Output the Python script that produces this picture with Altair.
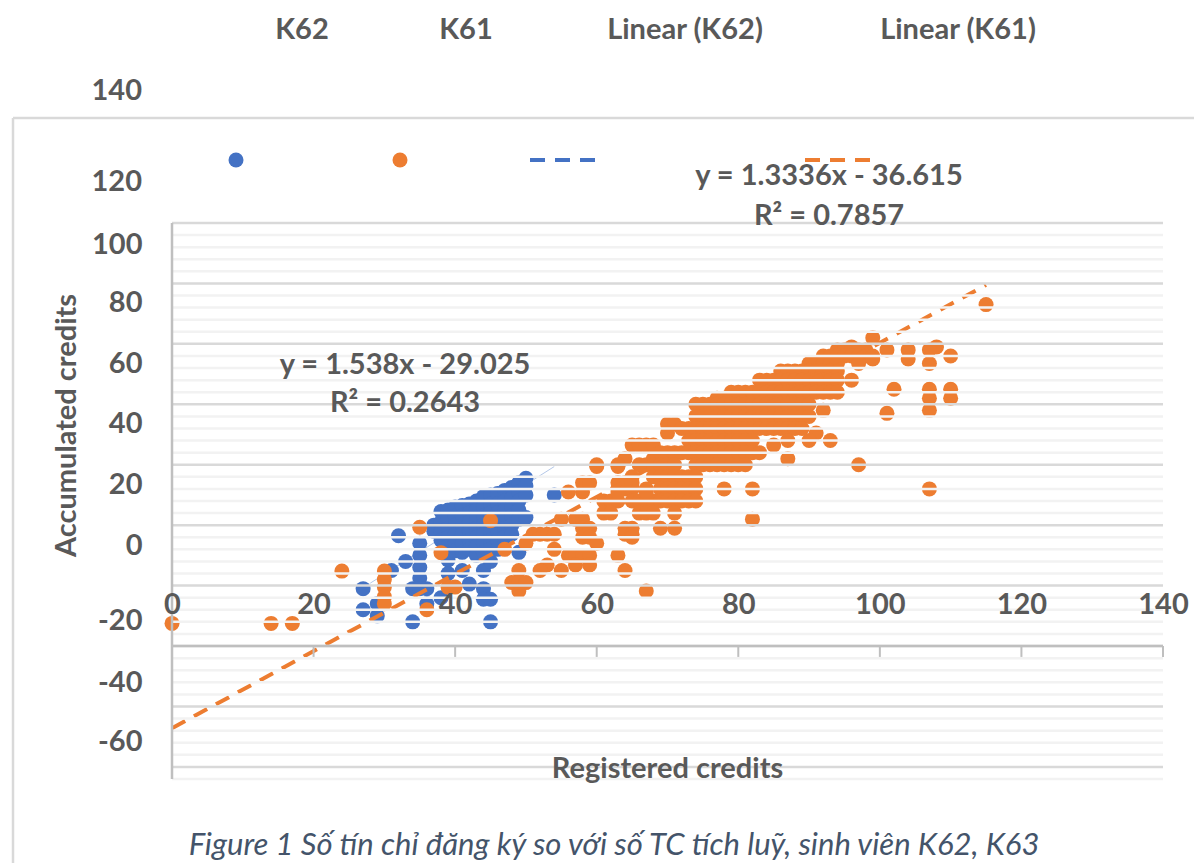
import altair as alt
import pandas as pd

# K62: registered credits -> accumulated credits
K62_COLUMNS = {
    27: [19, 12], 29: [14, 10], 31: [25], 32: [36.5], 33: [28], 34: [19, 8],
    35: [34, 30, 26, 22.5, 19], 36: [19, 14], 37: [40, 38],
    38: [44.5, 41, 38, 35, 16],
    39: [45, 42, 39, 36, 33, 28.5, 24],
    40: [46, 43, 40, 37, 34, 31.5],
    41: [46.5, 43, 40, 37, 34, 31, 25],
    42: [47, 44, 41, 38, 35, 32, 20.5],
    43: [48, 45, 42, 39, 36, 33, 30],
    44: [49.5, 46, 43, 40, 37, 34, 31, 25, 19, 15.5],
    45: [50, 47, 44, 41, 38, 35, 32, 28, 15.5, 8],
    46: [50.5, 47, 44, 41, 38, 35, 32],
    47: [51.5, 48, 45, 42, 39, 36],
    48: [52.5, 49, 46, 43, 40, 37],
    49: [54, 51, 48, 45, 42, 31],
    50: [55.5, 53, 50, 42.5],
    54: [50],
}

# K61: accumulated credits -> registered credits
K61_ROWS = {
    113: [115],
    102: [99],
    99: [96, 108],
    98: [94, 95, 96, 97, 98, 101, 104, 107],
    96: [92, 93, 94, 95, 96, 97, 98, 99, 110],
    95: [99, 104],
    93.5: [90, 91, 92, 93, 94, 97, 107],
    91: [86, 87, 88, 89, 90, 91, 92, 93, 94],
    88: [83, 84, 85, 86, 87, 88, 89, 90, 91, 92, 93, 94, 96],
    85: [110, 107, 102],
    84: [79, 80, 81, 82, 83, 84, 85, 86, 87, 88, 89, 90, 91, 92, 93, 94],
    82: [77, 78, 110, 107],
    80: [74, 75, 76, 77, 78, 79, 80, 81, 82, 83, 84, 85, 86, 87, 88, 89, 90],
    78: [92, 107],
    77: [101],
    76: [74, 75, 76, 77, 78, 79, 80, 81, 82, 83, 84, 85, 86, 87, 88, 89, 90],
    73.5: [70, 71],
    72: [72, 73, 74, 75, 76, 77, 78, 79, 80, 81, 82, 83, 84, 85, 86, 87, 88, 89],
    70.5: [70, 91],
    68: [73, 74, 75, 76, 77, 78, 79, 80, 81, 82, 87, 90, 93],
    66.5: [65, 66, 67, 68, 85],
    64: [69, 70, 71, 72, 73, 74, 75, 76, 77, 78, 79, 80, 81, 82, 83],
    62: [64, 68, 87],
    60: [60, 63, 66, 67, 68, 69, 70, 71, 74, 75, 76, 77, 78, 79, 80, 81, 97],
    56: [65, 68, 69, 70, 71, 72, 73, 74],
    52: [63, 64, 65, 67, 69, 70, 71, 72, 73, 74, 78, 82, 107],
    48: [61, 62, 63, 65, 66, 67, 68, 69, 70, 71, 72, 73, 74],
    44: [61, 62, 66, 67, 68, 71],
    42: [55, 57, 58, 82],
    39: [64, 65, 69, 71, 58, 59],
    37: [51, 52, 53, 54, 64, 65],
    36: [65, 58, 59],
    34: [50, 60],
    32: [54, 47],
    30: [56, 57, 58, 59, 63],
    26.8: [53, 57, 59],
    25: [52, 55, 49, 64],
    18.2: [67, 49],
    51: [56, 58, 63, 67],
    54: [58, 59, 63, 65, 64],
    59.4: [60, 63],
    41.5: [45],
    39.3: [35],
    30.9: [38],
    24.8: [24, 30],
    22: [30],
    21: [48, 49, 50],
    19.5: [30, 39, 40],
    16.3: [30],
    14: [30],
    12: [36],
    7.5: [0, 14, 17],
}

ORANGE_TREND_X = [0, 115]
ORANGE_TREND_Y = [-27.2, 119.5]
BLUE_TREND_X = [28, 54]
BLUE_TREND_Y = [20.8, 59.4]

MAJOR_GRID = [-40, -20, 0, 20, 40, 60, 80, 100, 120, 140]
MINOR_GRID = [-44, -36, -32, -28, -24, -16, -12, -8, -4, 4, 8, 12, 16, 24, 28, 32, 36,
              44, 48, 52, 56, 64, 68, 72, 76, 84, 88, 92, 96, 104, 108, 112, 116,
              124, 128, 132, 136]
X_TICKS = [0, 20, 40, 60, 80, 100, 120, 140]
Y_LABELS = ["100", "80", "60", "40", "20", "0", "-20", "-40", "-60"]
Y_LABEL_AT = [132.8, 113.6, 93.4, 73.5, 53.6, 33.4, 8.3, -11.9, -31.5]

FONT = "Lato"
GREY = "#595959"
BLUE = "#4472c4"
ORANGE = "#ed7d31"
LEFT, TOP = 172, 223
DOT = 225

blue = pd.DataFrame([(x, y) for x, ys in K62_COLUMNS.items() for y in ys], columns=["x", "y"])
orange = pd.DataFrame([(x, y) for y, xs in K61_ROWS.items() for x in xs], columns=["x", "y"])

x_scale = alt.Scale(domain=[0, 140], nice=False, zero=False)
y_scale = alt.Scale(domain=[-44, 140], nice=False, zero=False)

label_expr = f"{Y_LABELS}[indexof({Y_LABEL_AT}, datum.value)]"

x_axis = alt.Axis(values=X_TICKS, grid=False, domain=False, ticks=False, offset=-189,
                  labelPadding=0, labelFontSize=29, labelFont=FONT, labelFontWeight="bold",
                  labelColor=GREY, labelFlush=False, labelOverlap=False, zindex=2,
                  title="Registered credits", titleFont=FONT, titleFontSize=29,
                  titleFontWeight="bold", titleColor=GREY, titleX=495, titleY=178,
                  titleBaseline="middle")
y_axis = alt.Axis(values=Y_LABEL_AT, labelExpr=label_expr, grid=False, domain=False, ticks=False,
                  labelPadding=30, labelFontSize=29, labelFont=FONT, labelFontWeight="bold",
                  labelColor=GREY, labelFlush=False, labelOverlap=False, labelBaseline="middle",
                  zindex=2, title="Accumulated credits", titleFont=FONT, titleFontSize=29,
                  titleFontWeight="bold", titleColor=GREY, titleAngle=270, titleX=-106,
                  titleY=202, titleBaseline="middle")

X = lambda f="x": alt.X(f"{f}:Q", scale=x_scale, axis=x_axis)
Y = lambda f="y": alt.Y(f"{f}:Q", scale=y_scale, axis=y_axis)

layers = []

layers.append(
    alt.Chart(pd.DataFrame({"x": BLUE_TREND_X, "y": BLUE_TREND_Y}))
    .mark_line(color="#b4c7e7", strokeWidth=1)
    .encode(x=X(), y=Y())
)
layers.append(alt.Chart(blue).mark_circle(color=BLUE, size=DOT, opacity=1).encode(x=X(), y=Y()))
layers.append(alt.Chart(orange).mark_circle(color=ORANGE, size=DOT, opacity=1).encode(x=X(), y=Y()))
layers.append(
    alt.Chart(pd.DataFrame({"x": ORANGE_TREND_X, "y": ORANGE_TREND_Y}))
    .mark_line(color=ORANGE, strokeWidth=4, strokeDash=[15, 10])
    .encode(x=X(), y=Y())
)

# gridlines lie over the points in the reference
for values, colour in ((MINOR_GRID, "#f2f2f2"), (MAJOR_GRID, "#d9d9d9")):
    layers.append(
        alt.Chart(pd.DataFrame({"y": values}))
        .mark_rule(color=colour, strokeWidth=2.5)
        .encode(y=Y(), x=alt.datum(0, scale=x_scale, axis=x_axis), x2=alt.datum(140))
    )

# axis lines and downward ticks at y = 0
layers.append(
    alt.Chart(pd.DataFrame({"y": [0]}))
    .mark_rule(color="#bfbfbf", strokeWidth=2.5)
    .encode(y=Y(), x=alt.datum(0, scale=x_scale, axis=x_axis), x2=alt.datum(140))
)
layers.append(
    alt.Chart(pd.DataFrame({"x": [0]}))
    .mark_rule(color="#bfbfbf", strokeWidth=2.5)
    .encode(x=X(), y=alt.datum(-44, scale=y_scale, axis=y_axis), y2=alt.datum(140))
)
layers.append(
    alt.Chart(pd.DataFrame({"x": X_TICKS[1:]}))
    .mark_rule(color="#bfbfbf", strokeWidth=2)
    .encode(x=X(), y=alt.datum(-3.6, scale=y_scale, axis=y_axis), y2=alt.datum(0))
)

# outer frame of the chart
layers.append(alt.Chart(pd.DataFrame({"a": [0]})).mark_rule(color="#d9d9d9", strokeWidth=2.5).encode(
    x=alt.value(13 - LEFT), x2=alt.value(1194 - LEFT), y=alt.value(118 - TOP)))
layers.append(alt.Chart(pd.DataFrame({"a": [0]})).mark_rule(color="#d9d9d9", strokeWidth=2.5).encode(
    x=alt.value(13 - LEFT), y=alt.value(118 - TOP), y2=alt.value(863 - TOP)))

# legend keys
for px, colour in ((236, BLUE), (400, ORANGE)):
    layers.append(alt.Chart(pd.DataFrame({"a": [0]})).mark_circle(color=colour, size=DOT, opacity=1).encode(
        x=alt.value(px - LEFT), y=alt.value(160 - TOP)))
for x0, x1, colour in ((530, 598, BLUE), (805, 872, ORANGE)):
    layers.append(alt.Chart(pd.DataFrame({"a": [0]}))
                  .mark_rule(color=colour, strokeWidth=4, strokeDash=[15, 10])
                  .encode(x=alt.value(x0 - LEFT), x2=alt.value(x1 - LEFT), y=alt.value(160 - TOP)))

# free text: legend, the two y labels above the plot frame, equations, caption
TEXTS = [
    ("K62", 302, 30, 29, "bold", "normal", GREY, "center"),
    ("K61", 466, 30, 29, "bold", "normal", GREY, "center"),
    ("Linear (K62)", 685, 30, 29, "bold", "normal", GREY, "center"),
    ("Linear (K61)", 958, 30, 29, "bold", "normal", GREY, "center"),
    ("140", 142, 91, 29, "bold", "normal", GREY, "right"),
    ("120", 142, 182, 29, "bold", "normal", GREY, "right"),
    ("y = 1.3336x - 36.615", 829, 176, 29, "bold", "normal", GREY, "center"),
    ("R² = 0.7857", 829, 216, 29, "bold", "normal", GREY, "center"),
    ("y = 1.538x - 29.025", 405, 365, 29, "bold", "normal", GREY, "center"),
    ("R² = 0.2643", 405, 403, 29, "bold", "normal", GREY, "center"),
    ("Figure 1 Số tín chỉ đăng ký so với số TC tích luỹ, sinh viên K62, K63", 614, 846, 31, "normal", "italic", "#44546a", "center"),
]
for text, px, py, size, weight, style, colour, align in TEXTS:
    layers.append(
        alt.Chart(pd.DataFrame({"a": [0]}))
        .mark_text(text=text, font=FONT, fontSize=size, fontWeight=weight, fontStyle=style,
                   color=colour, align=align, baseline="middle")
        .encode(x=alt.value(px - LEFT), y=alt.value(py - TOP))
    )

chart = (
    alt.layer(*layers)
    .properties(width=991, height=556, autosize=alt.AutoSizeParams(type="none"),
                padding={"left": 164, "top": 215, "right": 31, "bottom": 84}, background="white")
    .configure_view(stroke=None)
)

chart.save("out.html", embed_options={"renderer": "svg", "actions": False})
